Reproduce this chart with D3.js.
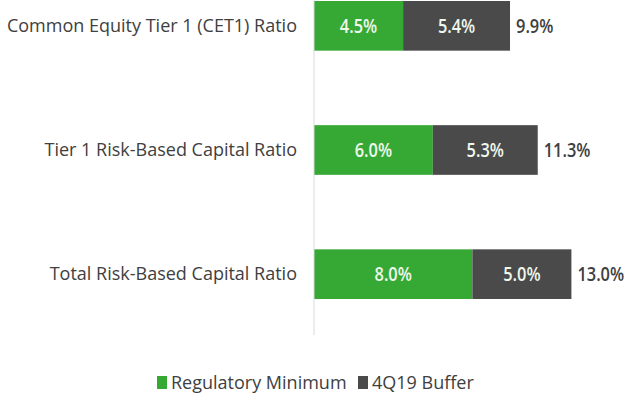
<!DOCTYPE html>
<meta charset="utf-8">
<style>
body { margin: 0; background: #fff; }
text { font-family: "Open Sans", "Liberation Sans", sans-serif; }
.cat { fill: #404040; font-size: 18px; }
.val { fill: #eef7ec; font-size: 20px; font-weight: 600; }
.tot { fill: #404040; font-size: 20px; font-weight: 600; }
.leg { fill: #404040; font-size: 18px; }
</style>

<svg width="638" height="408"></svg>

<script src="https://d3js.org/d3.v7.min.js"></script>
<script>

var svg = d3.select("svg");

// dados
var categorias = ["Common Equity Tier 1 (CET1) Ratio", "Tier 1 Risk-Based Capital Ratio", "Total Risk-Based Capital Ratio"];
var minimo = [4.5, 6.0, 8.0];
var buffer = [5.4, 5.3, 5.0];
var totais = [9.9, 11.3, 13.0];
var series = ["Regulatory Minimum", "4Q19 Buffer"];
var cores = ["#36a935", "#4a4a4a"];

var x0 = 314;
var x = d3.scaleLinear().domain([0, 1]).range([x0, x0 + 19.8]);
var y = d3.scaleBand().domain(categorias).range([1, 299]).paddingInner(0.6).paddingOuter(0);

var dados = categorias.map((c, i) => ({cat: c, vals: [minimo[i], buffer[i]], total: totais[i]}));
var pilha = d3.stack().keys([0, 1]).value((d, k) => d.vals[k])(dados);

// fonte condensada tipo Calibri
var sx = 0.82;

var g = svg.append("g");

pilha.forEach((s, k) => {
  g.selectAll(null)
    .data(s)
    .enter()
    .append("rect")
      .attr("x", d => x(d[0]))
      .attr("y", d => y(d.data.cat))
      .attr("width", d => x(d[1]) - x(d[0]))
      .attr("height", y.bandwidth())
      .attr("fill", cores[k]);

  g.selectAll(null)
    .data(s)
    .enter()
    .append("text")
      .attr("class", "val")
      .attr("transform", d => "translate(" + (x(d[0]) + x(d[1])) / 2 + "," + (y(d.data.cat) + y.bandwidth() / 2) + ") scale(" + sx + ",1)")
      .attr("dy", "0.35em")
      .attr("text-anchor", "middle")
      .text(d => d.data.vals[k].toFixed(1) + "%");
});

// totais
g.selectAll(".tot")
  .data(dados)
  .enter()
  .append("text")
    .attr("class", "tot")
    .attr("transform", d => "translate(" + (x(d.total) + 6) + "," + (y(d.cat) + y.bandwidth() / 2) + ") scale(" + sx + ",1)")
    .attr("dy", "0.35em")
    .text(d => d.total.toFixed(1) + "%");

// eixo
g.append("line")
  .attr("x1", x0).attr("x2", x0)
  .attr("y1", 0).attr("y2", 335)
  .attr("stroke", "#d9d9d9");

g.selectAll(".cat")
  .data(categorias)
  .enter()
  .append("text")
    .attr("class", "cat")
    .attr("x", 297)
    .attr("y", d => y(d) + y.bandwidth() / 2)
    .attr("dy", "0.35em")
    .attr("text-anchor", "end")
    .text(d => d);

// legenda
var legX = [157, 358];
var leg = svg.selectAll(".legitem")
  .data(series)
  .enter()
  .append("g")
    .attr("transform", (d, i) => "translate(" + legX[i] + ",383)");
leg.append("rect")
  .attr("x", 0).attr("y", -7)
  .attr("width", 10).attr("height", 13)
  .attr("fill", (d, i) => cores[i]);
leg.append("text")
  .attr("class", "leg")
  .attr("x", 14)
  .attr("dy", "0.35em")
  .text(d => d);

</script>
